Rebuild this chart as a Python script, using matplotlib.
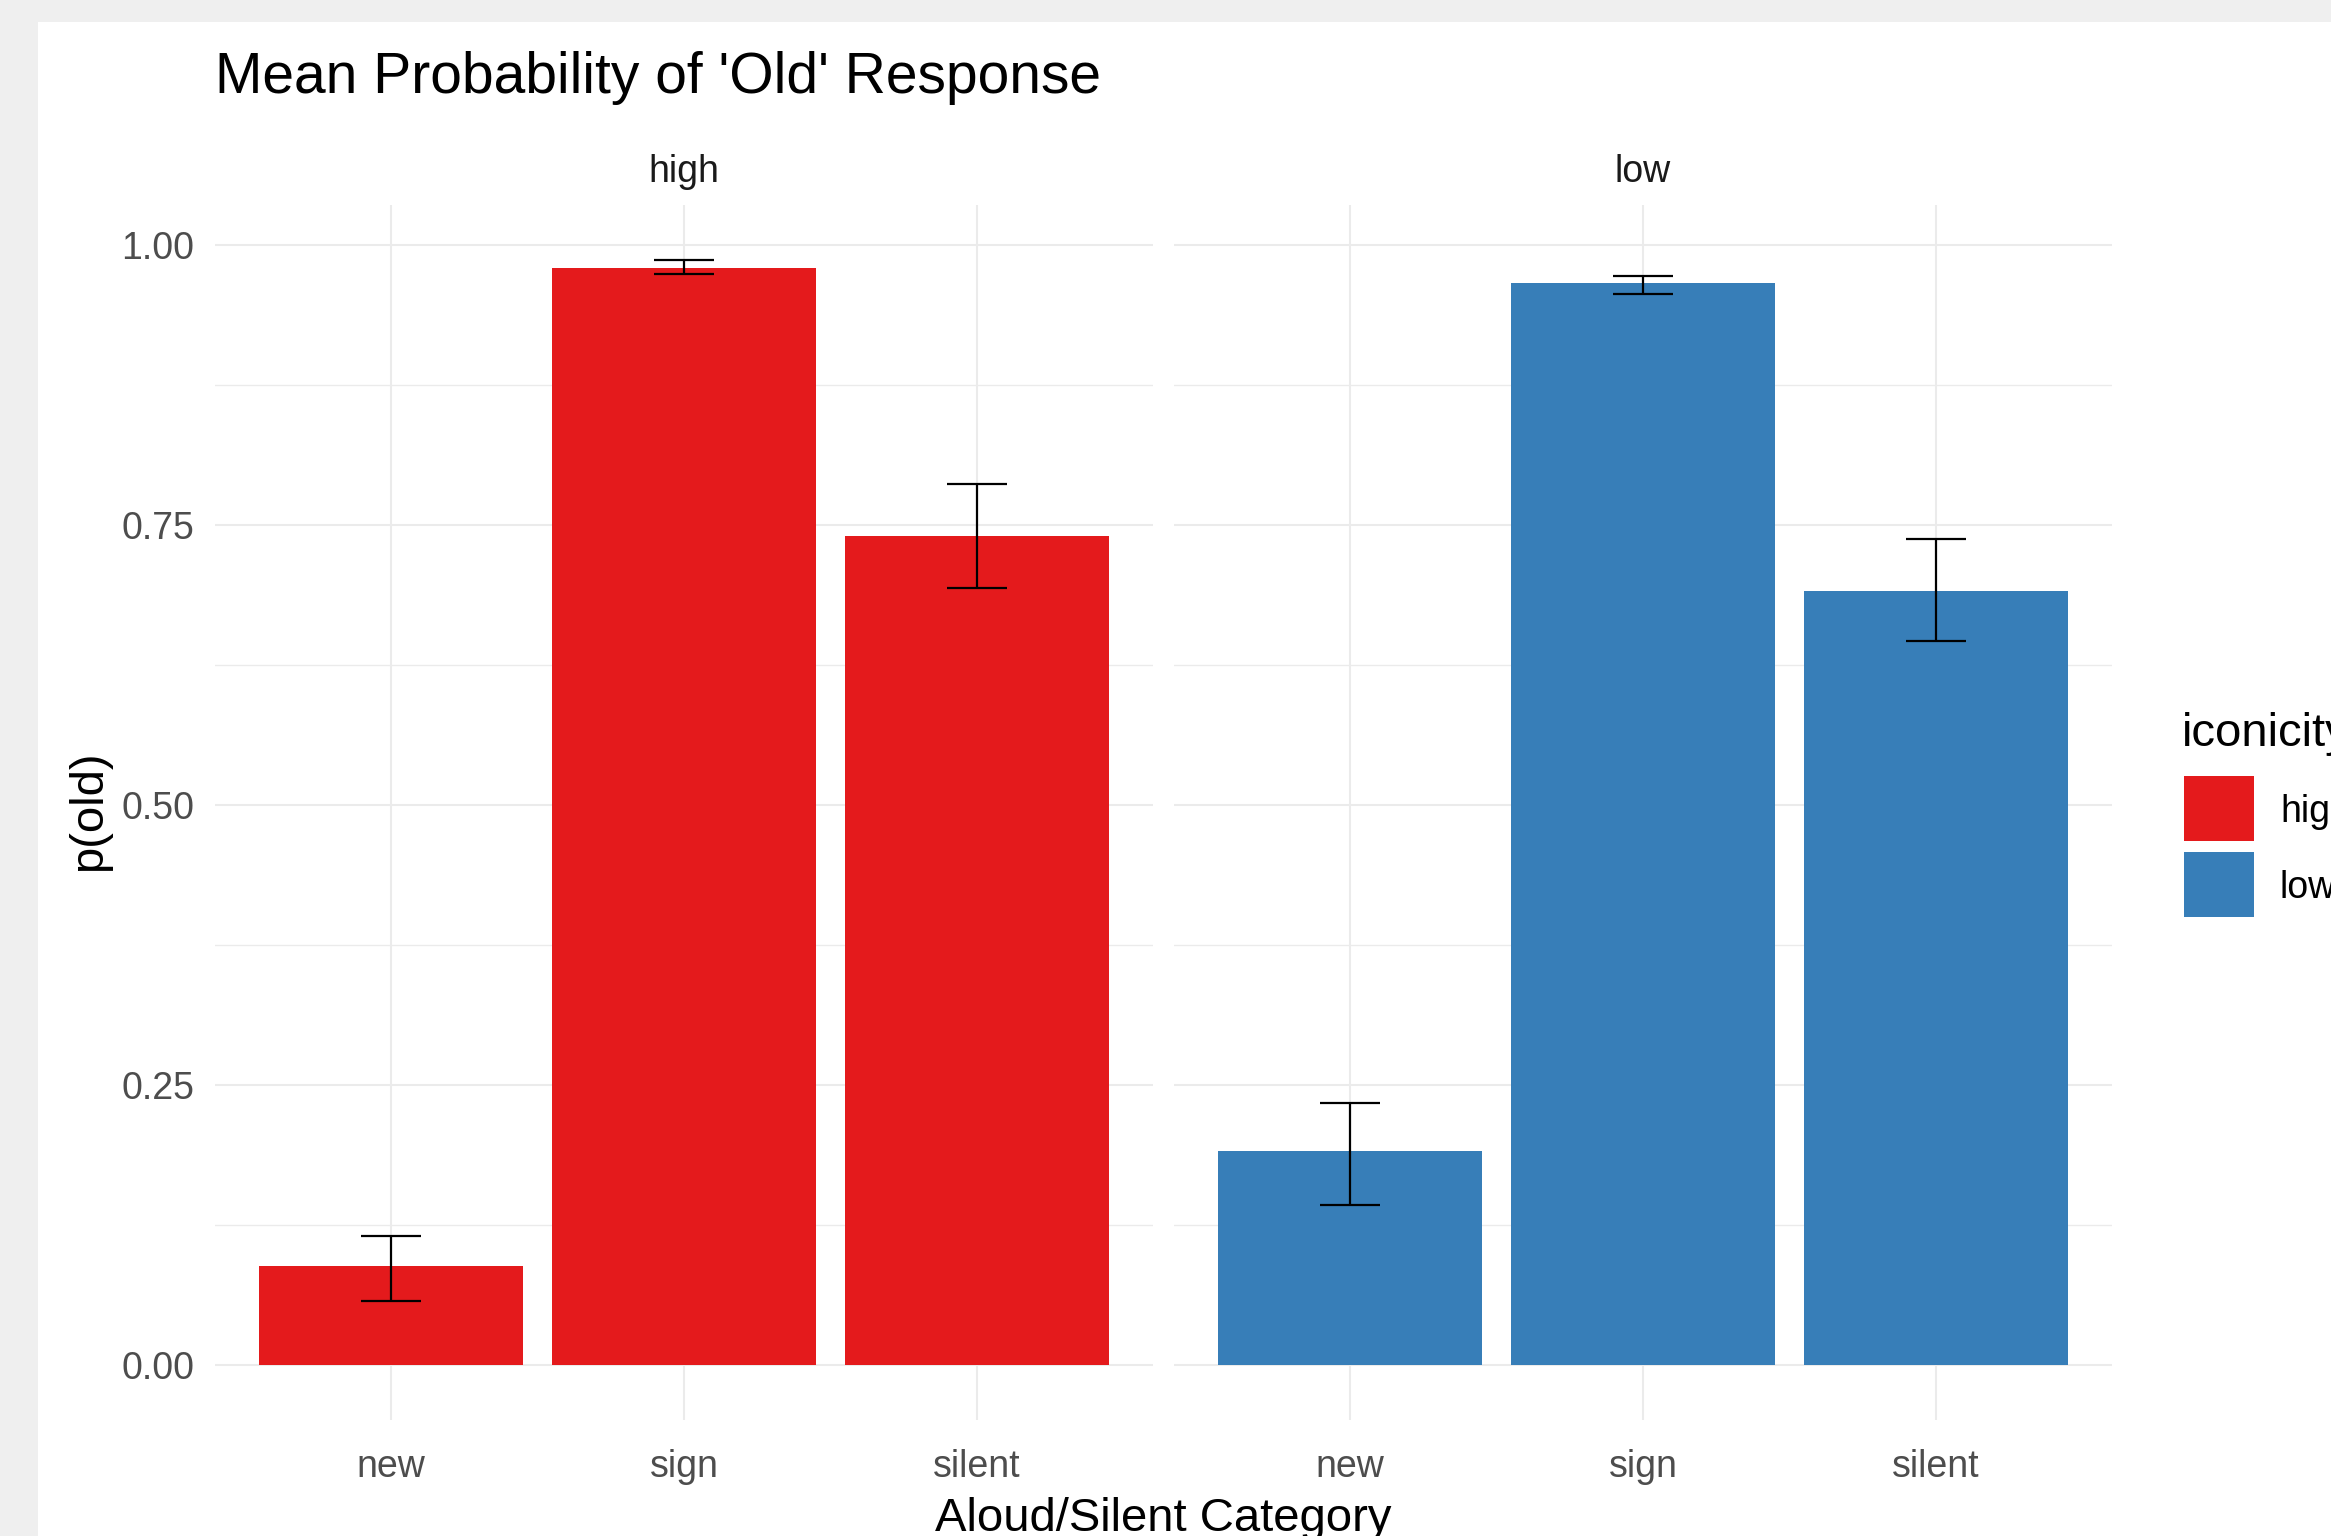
import matplotlib.pyplot as plt
from matplotlib.patches import Rectangle
from matplotlib.ticker import FormatStrFormatter
import numpy as np

plt.rcParams['font.family'] = ['Liberation Sans', 'DejaVu Sans']

# data
iconicity = ['high', 'low']
categories = ['new', 'sign', 'silent']
colors = ['#E41A1C', '#377EB8']
mean_high = [0.088, 0.979, 0.740]
lo_high = [0.057, 0.974, 0.693]
hi_high = [0.115, 0.986, 0.786]
mean_low = [0.191, 0.966, 0.691]
lo_low = [0.143, 0.956, 0.646]
hi_low = [0.234, 0.972, 0.737]

means = [mean_high, mean_low]
lows = [lo_high, lo_low]
highs = [hi_high, hi_low]

W, H = 2331, 1536
fig = plt.figure(figsize=(W / 100, H / 100), dpi=100, facecolor='#EFEFEF')
fig.add_artist(Rectangle((38 / W, 0), 1, 1 - 22 / H, transform=fig.transFigure,
                         facecolor='white', edgecolor='none', zorder=-1))


def fx(px):
    return px / W


def fy(py):
    return 1 - py / H


# ggplot-like y range: 0 .. max, expanded by 5%
ymax = max(max(h) for h in highs)
ylim = (-0.05 * ymax, ymax * 1.05)

panels = [(215, 1153), (1174, 2112)]
top, bottom = 205, 1420
x = np.arange(1, len(categories) + 1)
for i, (l, r) in enumerate(panels):
    ax = fig.add_axes([fx(l), fy(bottom), (r - l) / W, (bottom - top) / H])
    ax.set_facecolor('white')
    m = np.array(means[i])
    yerr = [m - np.array(lows[i]), np.array(highs[i]) - m]
    ax.bar(x, m, width=0.9, color=colors[i], zorder=2)
    ax.errorbar(x, m, yerr=yerr, fmt='none', ecolor='black', elinewidth=1.6,
                capsize=21.5, capthick=1.6, zorder=3)
    ax.set_xlim(0.4, 3.6)
    ax.set_ylim(*ylim)
    ax.set_xticks(x, categories)
    ax.set_yticks([0, 0.25, 0.5, 0.75, 1.0])
    ax.set_yticks([0.125, 0.375, 0.625, 0.875], minor=True)
    ax.yaxis.set_major_formatter(FormatStrFormatter('%.2f'))
    ax.tick_params(which='both', length=0, labelsize=27, labelcolor='#4D4D4D')
    ax.tick_params(axis='y', pad=15)
    ax.tick_params(axis='x', pad=21)
    if i > 0:
        ax.tick_params(axis='y', labelleft=False)
    ax.grid(which='major', color='#EBEBEB', linewidth=1.5, zorder=0)
    ax.grid(which='minor', axis='y', color='#EBEBEB', linewidth=1.0, zorder=0)
    ax.set_axisbelow(True)
    for s in ax.spines.values():
        s.set_visible(False)
    fig.text(fx((l + r) / 2), fy(172), iconicity[i], ha='center', va='center',
             fontsize=27, color='#1A1A1A')

fig.text(fx(215), fy(78), "Mean Probability of 'Old' Response", ha='left',
         va='center', fontsize=41, color='black')
fig.text(fx(89), fy(811), 'p(old)', rotation=90, ha='center', va='center',
         fontsize=34, color='black')
fig.text(fx(1163), fy(1519), 'Aloud/Silent Category', ha='center', va='center',
         fontsize=34, color='black')

# legend drawn by hand so the keys get ggplot's square size
fig.text(fx(2182), fy(734), 'iconicity', ha='left', va='center',
         fontsize=34, color='black')
key_w, key_h, key_gap = 70, 65, 11
for i, name in enumerate(iconicity):
    ky = 776 + i * (key_h + key_gap)
    fig.add_artist(Rectangle((fx(2184), fy(ky + key_h)), key_w / W, key_h / H,
                             transform=fig.transFigure, facecolor=colors[i],
                             edgecolor='none'))
    fig.text(fx(2280), fy(ky + key_h / 2 + 3), name, ha='left', va='center',
             fontsize=27, color='black')

fig.savefig('out.png', dpi=100, facecolor=fig.get_facecolor())
